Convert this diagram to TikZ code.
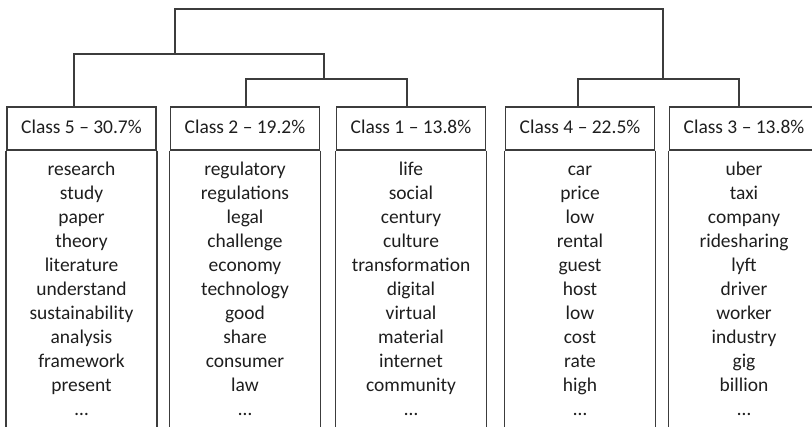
\documentclass[tikz,border=0pt]{standalone}
\usepackage{fontspec}
\setmainfont{Carlito}
\definecolor{rule}{HTML}{3C3C3C}
\definecolor{ink}{HTML}{1E1E1E}
\tikzset{
  frame/.style={draw=rule, line width=1.1pt},
  link/.style={draw=rule, line width=1.1pt},
  classhead/.style={frame, minimum width=112pt, minimum height=32.25pt,
    inner sep=0pt, text=ink, text height=10pt, text depth=3pt,
    font=\fontsize{14.6}{17.5}\selectfont},
  word/.style={anchor=base, inner sep=0pt, text=ink,
    font=\fontsize{14.6}{17.5}\selectfont}
}

\begin{document}
\begin{tikzpicture}[x=0.75pt,y=-0.75pt]
\useasboundingbox (0,0) rectangle (812,426);
\clip (0,0) rectangle (812,426);

% one column per class: number / centre / heading / top words
\foreach \n/\x/\head/\ws in {
  5/81.5/{Class 5 -- 30.7\%}/{research,study,paper,theory,literature,understand,sustainability,analysis,framework,present,\dots},
  2/245/{Class 2 -- 19.2\%}/{regulatory,regulations,legal,challenge,economy,technology,good,share,consumer,law,\dots},
  1/411/{Class 1 -- 13.8\%}/{life,social,century,culture,transformation,digital,virtual,material,internet,community,\dots},
  4/580/{Class 4 -- 22.5\%}/{car,price,low,rental,guest,host,low,cost,rate,high,\dots},
  3/744/{Class 3 -- 13.8\%}/{uber,taxi,company,ridesharing,lyft,driver,worker,industry,gig,billion,\dots}}{
  \node[classhead] (c\n) at (\x,128.5) {\head};
  \draw[frame] (c\n.south west) -- ++(0,300) (c\n.south east) -- ++(0,300);
  \foreach \w [count=\i] in \ws
    \node[word] (w\n-\i) at (\x,{151+24*\i}) {\w};
}

% dendrogram joints
\coordinate (root) at (419,9);
\coordinate (j521) at (175,54);
\coordinate (j21) at (324,79);
\coordinate (j43) at (663,79);

\draw[link] (j521) |- (root) -| (j43);
\draw[link] ([xshift=-5.6pt]c5.north) |- (j521) -| (j21);
\draw[link] ([xshift=0.75pt]c2.north) |- (j21) -| ([xshift=-3pt]c1.north);
\draw[link] ([xshift=-1.5pt]c4.north) |- (j43) -| ([xshift=-3.75pt]c3.north);
\end{tikzpicture}
\end{document}
